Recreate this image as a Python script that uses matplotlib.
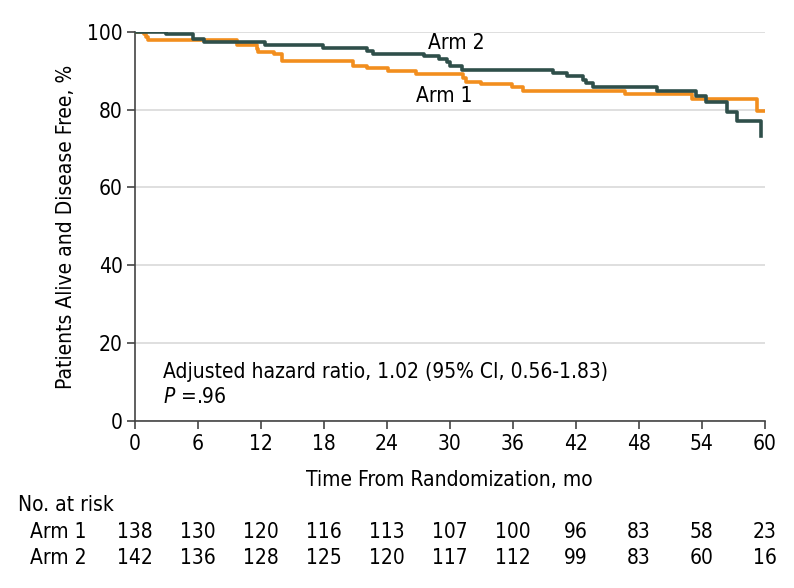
import numpy as np
import matplotlib.pyplot as plt

# step-curve data (time in months, % alive and disease free)
arm1_t = [0, 0.85, 1.05, 1.2, 9.7, 11.6, 11.7, 13.2, 14.0, 20.8, 22.1, 24.1, 26.8,
          31.3, 31.5, 33.0, 35.9, 37.0, 46.7, 53.1, 59.3, 60.0]
arm1_s = [100, 99.3, 98.6, 97.9, 96.6, 95.6, 94.9, 94.2, 92.5, 91.3, 90.6, 89.9, 89.2,
          88.1, 87.2, 86.5, 85.9, 84.9, 84.1, 82.7, 79.6, 79.6]

arm2_t = [0, 3.0, 5.5, 6.6, 12.4, 17.9, 22.1, 22.7, 27.5, 29.0, 29.7, 30.0, 31.2,
          39.8, 41.2, 42.7, 43.0, 43.6, 49.7, 53.5, 54.4, 56.4, 57.4, 59.7, 59.7]
arm2_s = [100, 99.5, 98.2, 97.3, 96.6, 95.7, 95.0, 94.3, 93.7, 93.0, 92.3, 91.1, 90.2,
          89.4, 88.7, 87.7, 86.8, 85.7, 84.7, 83.4, 81.9, 79.5, 77.2, 77.2, 73.3]

risk_times = [0, 6, 12, 18, 24, 30, 36, 42, 48, 54, 60]
risk_arm1 = [138, 130, 120, 116, 113, 107, 100, 96, 83, 58, 23]
risk_arm2 = [142, 136, 128, 125, 120, 117, 112, 99, 83, 60, 16]

orange = '#F28E1E'
dark = '#2F4F4A'
fs = 15
plt.rcParams['font.family'] = ['DejaVu Sans']
plt.rcParams['font.stretch'] = 'condensed'

fig = plt.figure(figsize=(7.94, 5.88), dpi=100)
ax = fig.add_axes([0.170, 0.284, 0.793, 0.662])

ax.step(arm1_t, arm1_s, where='post', color=orange, lw=2.6, zorder=3)
ax.step(arm2_t, arm2_s, where='post', color=dark, lw=2.6, zorder=4)

ax.set_xlim(0, 60)
ax.set_ylim(0, 100)
ax.set_xticks(risk_times)
ax.set_yticks([0, 20, 40, 60, 80, 100])
ax.yaxis.grid(True, color='#d9d9d9', lw=1.2)
ax.set_axisbelow(True)
for s in ['top', 'right']:
    ax.spines[s].set_visible(False)
for s in ['left', 'bottom']:
    ax.spines[s].set_color('#444444')
    ax.spines[s].set_linewidth(1.2)
ax.tick_params(axis='both', direction='out', length=6, width=1.2, color='#444444',
               labelsize=fs, pad=3)

ax.set_xlabel('Time From Randomization, mo', fontsize=fs, labelpad=12)
ax.set_ylabel('Patients Alive and Disease Free, %', fontsize=fs, labelpad=8)

ax.text(30.6, 97.0, 'Arm 2', fontsize=fs, ha='center', va='center')
ax.text(29.5, 83.5, 'Arm 1', fontsize=fs, ha='center', va='center')
ax.text(2.7, 12.6, 'Adjusted hazard ratio, 1.02 (95% CI, 0.56-1.83)', fontsize=fs,
        va='center')
ax.text(2.7, 6.2, r'$P$ =.96', fontsize=fs, va='center')

# number at risk table
trans = ax.get_xaxis_transform()
fig.text(18 / 794, 1 - 505 / 588, 'No. at risk', fontsize=fs, va='center')
for label, vals, ypix in [('Arm 1', risk_arm1, 532), ('Arm 2', risk_arm2, 558)]:
    fig.text(30 / 794, 1 - ypix / 588, label, fontsize=fs, va='center')
    for t, v in zip(risk_times, vals):
        ax.text(t, (421 - ypix) / 389, str(v), fontsize=fs, ha='center', va='center',
                transform=trans, clip_on=False)

fig.savefig('out.png', dpi=100)
